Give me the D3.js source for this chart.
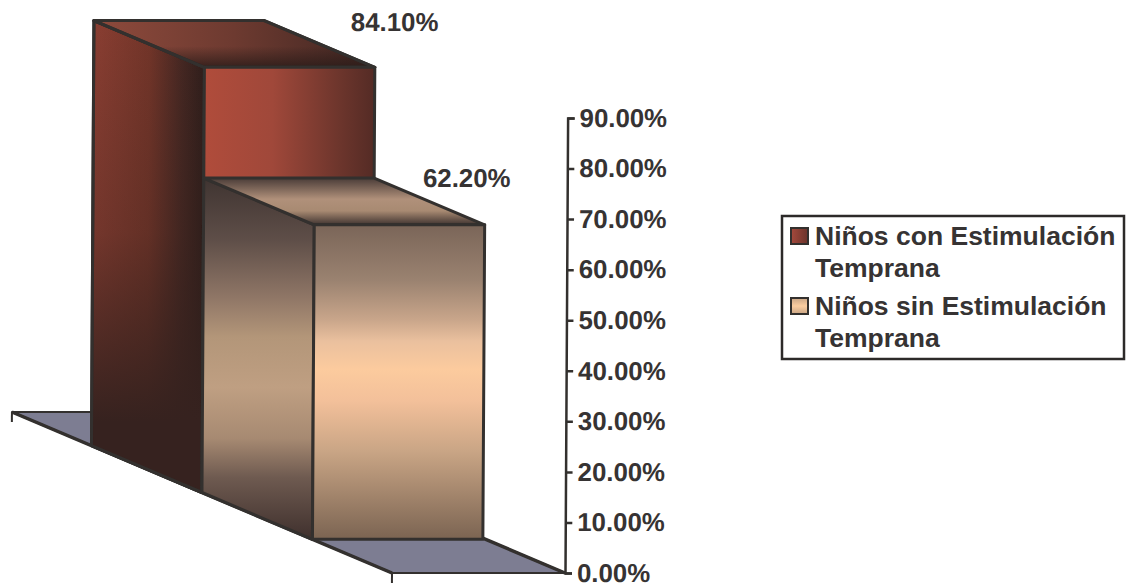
<!DOCTYPE html>
<html lang="es">
<head>
<meta charset="utf-8">
<title>Estimulación Temprana</title>
<script src="https://cdn.jsdelivr.net/npm/d3@7"></script>
<style>
  html, body { margin: 0; padding: 0; background: #fff; }
  svg { display: block; }
  text { font-family: "Liberation Sans", Arial, sans-serif; font-weight: bold; fill: #363333; }
</style>
</head>
<body>
<div id="chart"></div>
<script>
// Chart values
const seriesNames = ["Niños con Estimulación Temprana", "Niños sin Estimulación Temprana"];
const seriesValues = [84.1, 62.2];
const valueLabels = ["84.10%", "62.20%"];
const axisTicks = [0, 10, 20, 30, 40, 50, 60, 70, 80, 90];
const legendLines = [["Niños con Estimulación", "Temprana"], ["Niños sin Estimulación", "Temprana"]];

const width = 1131, height = 586;
const ink = "#33302e";

const svg = d3.select("#chart").append("svg").attr("width", width).attr("height", height);
const defs = svg.append("defs");

function gradient(id, dir, stops) {
  const g = defs.append("linearGradient").attr("id", id)
    .attr("x1", 0).attr("y1", 0)
    .attr("x2", dir === "h" ? 1 : 0).attr("y2", dir === "h" ? 0 : 1);
  stops.forEach(s => g.append("stop").attr("offset", s[0]).attr("stop-color", s[1]).attr("stop-opacity", s[2] === undefined ? 1 : s[2]));
}
gradient("redSide", "h", [[0, "#8a3e32"], [0.5, "#733529"], [0.8, "#452722"], [1, "#2f1e1b"]]);
gradient("redSideShade", "v", [[0, "#2f1d1a", 0], [0.45, "#33201c", 0.25], [0.85, "#36221f", 1], [1, "#36221f", 1]]);
gradient("redFront", "h", [[0, "#b04c3b"], [0.4, "#a0483a"], [0.8, "#6c352c"], [1, "#542b25"]]);
gradient("redTop", "h", [[0, "#8e4a3c"], [0.5, "#6d3a30"], [1, "#3f2622"]]);
gradient("redTopShade", "v", [[0, "#2c1c19", 0], [0.55, "#2c1c19", 0], [1, "#2c1c19", 0.85]]);
gradient("tanSide", "v", [[0, "#3f3431"], [0.17, "#5e4e48"], [0.33, "#8f7666"], [0.44, "#b39679"], [0.58, "#bf9f82"], [0.72, "#a78a72"], [0.83, "#6e5a50"], [1, "#3f302d"]]);
gradient("tanFront", "v", [[0, "#7a6558"], [0.175, "#9a8270"], [0.3, "#c8a58a"], [0.37, "#eac09e"], [0.46, "#fccb9e"], [0.56, "#f3c09a"], [0.72, "#c9a585"], [1, "#7b6452"]]);
gradient("tanTop", "v", [[0, "#4a3c38"], [0.45, "#b0907a"], [0.7, "#a88a72"], [1, "#3f3330"]]);
gradient("swatchRed", "h", [[0, "#a5493c"], [1, "#6a332b"]]);
gradient("swatchTan", "v", [[0, "#c9a585"], [0.5, "#fbcda0"], [1, "#c9a585"]]);

// Projection: category position across, series depth front to back, value upward
const baseX = 392, baseY = 573, floorW = 173;
const y = d3.scaleLinear().domain([0, 90]).range([baseY, 118]);
const across = d3.scaleLinear().domain([0, 1]).range([0, floorW]);
const depthX = d3.scaleLinear().domain([0, 1]).range([11, baseX]);
const depthY = d3.scaleLinear().domain([0, 1]).range([412, baseY]);
const band = d3.scaleBand().domain(seriesNames).range([0, 1]).paddingInner(0).paddingOuter(0.72);
const project = (a, d, v) => [depthX(d) + across(a), depthY(d) - (baseY - y(v))];

// The plot leans very slightly to the right as it rises
const plot = svg.append("g")
  .attr("transform", `translate(0,${baseY}) skewX(-0.33) translate(0,${-baseY})`);

const line = d3.line();
function face(points, fill, sw = 3) {
  return plot.append("path").attr("d", line(points) + "Z")
    .attr("fill", fill).attr("stroke", ink).attr("stroke-width", sw).attr("stroke-linejoin", "round");
}

// Floor
const floor = [project(0, 0, 0), project(1, 0, 0), project(1, 1, 0), project(0, 1, 0)];
face(floor, "#7d7d92", 2);
plot.append("path").attr("d", line([floor[0], floor[3]])).attr("stroke", ink).attr("stroke-width", 3.5);
plot.append("path").attr("d", line([floor[1], floor[2]])).attr("stroke", ink).attr("stroke-width", 3.5);

// Category tick marks under the floor's corners
[floor[0], floor[3]].forEach(p => {
  plot.append("line").attr("x1", p[0]).attr("x2", p[0]).attr("y1", p[1]).attr("y2", p[1] + 10)
    .attr("stroke", ink).attr("stroke-width", 2);
});

// Bars, back series first
const barStyles = [
  { side: ["url(#redSide)", "url(#redSideShade)"], top: ["url(#redTop)", "url(#redTopShade)"], front: ["url(#redFront)"] },
  { side: ["url(#tanSide)"], top: ["url(#tanTop)"], front: ["url(#tanFront)"] }
];
seriesNames.forEach((name, i) => {
  const v = seriesValues[i];
  const d0 = band(name), d1 = d0 + band.bandwidth();
  const a0 = 0, a1 = 0.985;
  const side = [project(a0, d0, v), project(a0, d1, v), project(a0, d1, 0), project(a0, d0, 0)];
  const top = [project(a0, d0, v), project(a1, d0, v), project(a1, d1, v), project(a0, d1, v)];
  const front = [project(a0, d1, v), project(a1, d1, v), project(a1, d1, 0), project(a0, d1, 0)];
  barStyles[i].side.forEach(f => face(side, f));
  barStyles[i].top.forEach(f => face(top, f));
  barStyles[i].front.forEach(f => face(front, f));
  plot.append("text").attr("class", "value-label")
    .attr("x", [391.5, 464.5][i]).attr("y", [31, 187][i])
    .attr("text-anchor", "middle").attr("font-size", 25.8).text(valueLabels[i]);
});

// Value axis on the right
const axis = d3.axisRight(y).tickValues(axisTicks).tickSize(7).tickPadding(5)
  .tickFormat(d => d3.format(".2f")(d) + "%");
const axisG = plot.append("g").attr("transform", "translate(565,0)").call(axis);
axisG.select(".domain").attr("stroke", ink).attr("stroke-width", 2.5);
axisG.selectAll(".tick line").attr("stroke", ink).attr("stroke-width", 2.5);
axisG.selectAll(".tick text").attr("font-size", 25.8).attr("font-family", null).attr("fill", null);

// Legend
const legend = svg.append("g");
legend.append("rect").attr("x", 782).attr("y", 216).attr("width", 342).attr("height", 143)
  .attr("fill", "#fff").attr("stroke", "#2c2a29").attr("stroke-width", 2.5);
const legendBase = [245, 315], lineGap = 32;
seriesNames.forEach((name, i) => {
  legend.append("rect").attr("x", 791).attr("y", legendBase[i] - 17).attr("width", 17).attr("height", 16)
    .attr("fill", i ? "url(#swatchTan)" : "url(#swatchRed)").attr("stroke", ink).attr("stroke-width", 2);
  legendLines[i].forEach((t, k) => {
    legend.append("text").attr("x", 815).attr("y", legendBase[i] + k * lineGap)
      .attr("font-size", 26.5).text(t);
  });
});
</script>
</body>
</html>
